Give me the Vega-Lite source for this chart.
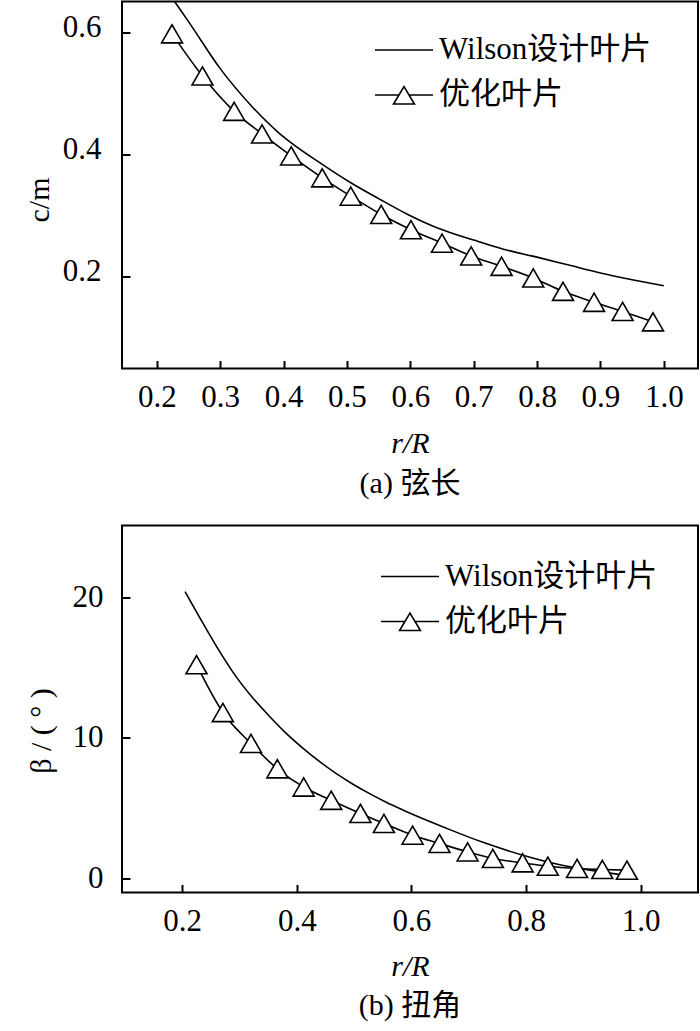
{
  "$schema": "https://vega.github.io/schema/vega-lite/v6.json",
  "background": "white",
  "padding": {"left": 23, "top": 0.5, "right": 0, "bottom": 0},
  "bounds": "flush",
  "spacing": 157,
  "datasets": {
    "chord": [
      {"r": 0.228, "v": 0.650, "series": "Wilson设计叶片"},
      {"r": 0.25, "v": 0.617, "series": "Wilson设计叶片"},
      {"r": 0.30, "v": 0.540, "series": "Wilson设计叶片"},
      {"r": 0.35, "v": 0.478, "series": "Wilson设计叶片"},
      {"r": 0.391, "v": 0.436, "series": "Wilson设计叶片"},
      {"r": 0.40, "v": 0.428, "series": "Wilson设计叶片"},
      {"r": 0.461, "v": 0.383, "series": "Wilson设计叶片"},
      {"r": 0.506, "v": 0.353, "series": "Wilson设计叶片"},
      {"r": 0.55, "v": 0.327, "series": "Wilson设计叶片"},
      {"r": 0.596, "v": 0.301, "series": "Wilson设计叶片"},
      {"r": 0.645, "v": 0.278, "series": "Wilson设计叶片"},
      {"r": 0.70, "v": 0.259, "series": "Wilson设计叶片"},
      {"r": 0.747, "v": 0.244, "series": "Wilson设计叶片"},
      {"r": 0.80, "v": 0.231, "series": "Wilson设计叶片"},
      {"r": 0.85, "v": 0.218, "series": "Wilson设计叶片"},
      {"r": 0.90, "v": 0.205, "series": "Wilson设计叶片"},
      {"r": 0.95, "v": 0.194, "series": "Wilson设计叶片"},
      {"r": 1.0, "v": 0.184, "series": "Wilson设计叶片"},
      {"r": 0.224, "v": 0.597, "series": "优化叶片"},
      {"r": 0.272, "v": 0.528, "series": "优化叶片"},
      {"r": 0.322, "v": 0.470, "series": "优化叶片"},
      {"r": 0.366, "v": 0.433, "series": "优化叶片"},
      {"r": 0.412, "v": 0.397, "series": "优化叶片"},
      {"r": 0.461, "v": 0.361, "series": "优化叶片"},
      {"r": 0.506, "v": 0.331, "series": "优化叶片"},
      {"r": 0.554, "v": 0.301, "series": "优化叶片"},
      {"r": 0.601, "v": 0.276, "series": "优化叶片"},
      {"r": 0.650, "v": 0.254, "series": "优化叶片"},
      {"r": 0.696, "v": 0.233, "series": "优化叶片"},
      {"r": 0.744, "v": 0.216, "series": "优化叶片"},
      {"r": 0.794, "v": 0.197, "series": "优化叶片"},
      {"r": 0.841, "v": 0.175, "series": "优化叶片"},
      {"r": 0.890, "v": 0.157, "series": "优化叶片"},
      {"r": 0.935, "v": 0.142, "series": "优化叶片"},
      {"r": 0.983, "v": 0.125, "series": "优化叶片"}
    ],
    "twist": [
      {"r": 0.205, "v": 20.4, "series": "Wilson设计叶片"},
      {"r": 0.237, "v": 18.1, "series": "Wilson设计叶片"},
      {"r": 0.266, "v": 16.1, "series": "Wilson设计叶片"},
      {"r": 0.295, "v": 14.3, "series": "Wilson设计叶片"},
      {"r": 0.324, "v": 12.8, "series": "Wilson设计叶片"},
      {"r": 0.353, "v": 11.5, "series": "Wilson设计叶片"},
      {"r": 0.382, "v": 10.3, "series": "Wilson设计叶片"},
      {"r": 0.411, "v": 9.25, "series": "Wilson设计叶片"},
      {"r": 0.440, "v": 8.3, "series": "Wilson设计叶片"},
      {"r": 0.469, "v": 7.45, "series": "Wilson设计叶片"},
      {"r": 0.498, "v": 6.7, "series": "Wilson设计叶片"},
      {"r": 0.527, "v": 6.03, "series": "Wilson设计叶片"},
      {"r": 0.556, "v": 5.42, "series": "Wilson设计叶片"},
      {"r": 0.585, "v": 4.87, "series": "Wilson设计叶片"},
      {"r": 0.611, "v": 4.4, "series": "Wilson设计叶片"},
      {"r": 0.659, "v": 3.6, "series": "Wilson设计叶片"},
      {"r": 0.726, "v": 2.55, "series": "Wilson设计叶片"},
      {"r": 0.799, "v": 1.6, "series": "Wilson设计叶片"},
      {"r": 0.859, "v": 0.98, "series": "Wilson设计叶片"},
      {"r": 0.926, "v": 0.5, "series": "Wilson设计叶片"},
      {"r": 0.99, "v": 0.12, "series": "Wilson设计叶片"},
      {"r": 0.225, "v": 15.2, "series": "优化叶片"},
      {"r": 0.271, "v": 11.8, "series": "优化叶片"},
      {"r": 0.320, "v": 9.6, "series": "优化叶片"},
      {"r": 0.366, "v": 7.8, "series": "优化叶片"},
      {"r": 0.412, "v": 6.5, "series": "优化叶片"},
      {"r": 0.460, "v": 5.56, "series": "优化叶片"},
      {"r": 0.511, "v": 4.62, "series": "优化叶片"},
      {"r": 0.552, "v": 3.91, "series": "优化叶片"},
      {"r": 0.602, "v": 3.08, "series": "优化叶片"},
      {"r": 0.649, "v": 2.49, "series": "优化叶片"},
      {"r": 0.698, "v": 1.89, "series": "优化叶片"},
      {"r": 0.742, "v": 1.42, "series": "优化叶片"},
      {"r": 0.794, "v": 1.11, "series": "优化叶片"},
      {"r": 0.838, "v": 0.87, "series": "优化叶片"},
      {"r": 0.889, "v": 0.71, "series": "优化叶片"},
      {"r": 0.933, "v": 0.64, "series": "优化叶片"},
      {"r": 0.976, "v": 0.59, "series": "优化叶片"}
    ]
  },
  "config": {
    "font": "Liberation Serif, Noto Sans CJK SC",
    "view": {"stroke": "black", "strokeWidth": 2},
    "axis": {
      "domain": false,
      "grid": false,
      "ticks": true,
      "tickColor": "black",
      "tickWidth": 2,
      "tickSize": -8,
      "labelColor": "black",
      "labelFontSize": 31,
      "labelFont": "Liberation Serif",
      "titleColor": "black",
      "titleFontSize": 30,
      "titleFontWeight": "normal",
      "titleFont": "Liberation Serif"
    },
    "legend": {
      "orient": "none",
      "title": null,
      "padding": 0,
      "symbolSize": 3364,
      "symbolStrokeWidth": 1.6,
      "symbolOpacity": 1,
      "labelFontSize": 31,
      "labelColor": "black",
      "labelOffset": 5,
      "labelLimit": 400,
      "rowPadding": -15
    },
    "title": {
      "orient": "bottom",
      "fontSize": 30,
      "fontWeight": "normal",
      "color": "black",
      "baseline": "alphabetic",
      "anchor": "middle",
      "frame": "group"
    }
  },
  "resolve": {"scale": {"shape": "independent"}, "legend": {"shape": "independent"}},
  "vconcat": [
    {
      "width": 576,
      "height": 367,
      "title": {"text": "(a) 弦长", "offset": 10},
      "data": {"name": "chord"},
      "encoding": {
        "x": {"field": "r", "type": "quantitative",
          "scale": {"domain": [0.145, 1.054], "nice": false, "zero": false},
          "axis": {"values": [0.2, 0.3, 0.4, 0.5, 0.6, 0.7, 0.8, 0.9, 1.0], "format": ".1f", "labelPadding": 22,
            "title": "r/R", "titleFontStyle": "italic", "titleBaseline": "alphabetic", "titleY": 84}},
        "y": {"field": "v", "type": "quantitative",
          "scale": {"domain": [0.0485, 0.65], "nice": false, "zero": false},
          "axis": {"values": [0.2, 0.4, 0.6], "format": ".1f", "labelPadding": 29, "labelOffset": -5,
            "title": "c/m", "titleBaseline": "alphabetic", "titleX": -74, "titleY": 198}}
      },
      "layer": [
        {"mark": {"type": "line", "color": "black", "strokeWidth": 1.6, "clip": true, "interpolate": "monotone"},
         "encoding": {"detail": {"field": "series"}}},
        {"transform": [{"filter": "datum.series === '优化叶片'"}],
         "mark": {"type": "point", "shape": "triangle-up", "size": 440, "filled": true, "fill": "white", "stroke": "black", "strokeWidth": 1.6, "opacity": 1},
         "encoding": {}},
        {"transform": [{"filter": "datum.r > 5"}],
         "mark": {"type": "point", "color": "black", "strokeWidth": 1.6},
         "encoding": {
           "shape": {"field": "series", "type": "nominal",
             "scale": {"domain": ["Wilson设计叶片", "优化叶片"], "range": ["M-1,0L1,0", "M-1,0L-0.17,0M0.17,0L1,0M0,-0.29L0.36,0.31L-0.36,0.31Z"]},
             "legend": {"legendX": 252, "legendY": 18.5, "symbolFillColor": "white", "symbolStrokeColor": "black"}}
         }}
      ]
    },
    {
      "width": 576,
      "height": 367,
      "title": {"text": "(b) 扭角", "offset": 10},
      "data": {"name": "twist"},
      "encoding": {
        "x": {"field": "r", "type": "quantitative",
          "scale": {"domain": [0.095, 1.1], "nice": false, "zero": false},
          "axis": {"values": [0.2, 0.4, 0.6, 0.8, 1.0], "format": ".1f", "labelPadding": 22,
            "title": "r/R", "titleFontStyle": "italic", "titleBaseline": "alphabetic", "titleY": 82.5}},
        "y": {"field": "v", "type": "quantitative",
          "scale": {"domain": [-1, 25.1], "nice": false, "zero": false},
          "axis": {"values": [0, 10, 20], "format": "d", "labelPadding": 27,
            "title": "β / ( ° )", "titleBaseline": "alphabetic", "titleX": -72, "titleY": 205}}
      },
      "layer": [
        {"mark": {"type": "line", "color": "black", "strokeWidth": 1.6, "clip": true, "interpolate": "monotone"},
         "encoding": {"detail": {"field": "series"}}},
        {"transform": [{"filter": "datum.series === '优化叶片'"}],
         "mark": {"type": "point", "shape": "triangle-up", "size": 440, "filled": true, "fill": "white", "stroke": "black", "strokeWidth": 1.6, "opacity": 1},
         "encoding": {}},
        {"transform": [{"filter": "datum.r > 5"}],
         "mark": {"type": "point", "color": "black", "strokeWidth": 1.6},
         "encoding": {
           "shape": {"field": "series", "type": "nominal",
             "scale": {"domain": ["Wilson设计叶片", "优化叶片"], "range": ["M-1,0L1,0", "M-1,0L-0.17,0M0.17,0L1,0M0,-0.29L0.36,0.31L-0.36,0.31Z"]},
             "legend": {"legendX": 258, "legendY": 21, "symbolFillColor": "white", "symbolStrokeColor": "black"}}
         }}
      ]
    }
  ]
}
